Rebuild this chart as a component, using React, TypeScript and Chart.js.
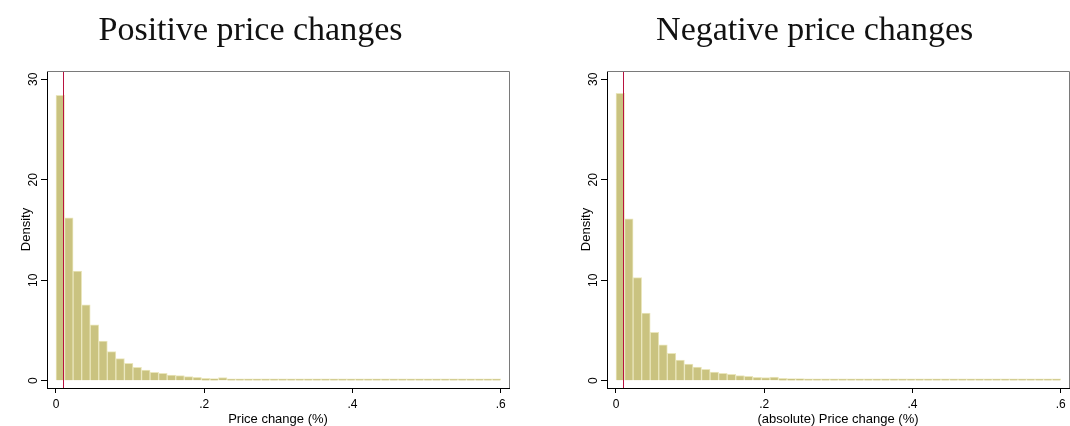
import React, { useEffect, useRef } from 'react';
import { Chart, registerables } from 'chart.js';

Chart.register(...registerables);

// ---- data ----
const binCount = 52;
const dataMax = 0.6;
const binWidth = dataMax / binCount;

const positiveDensity = [
  28.4, 16.2, 10.9, 7.54, 5.55, 3.95, 2.89, 2.19, 1.73, 1.33,
  1.06, 0.83, 0.73, 0.57, 0.5, 0.4, 0.33, 0.23, 0.2, 0.3,
  0.17, 0.17, 0.13, 0.13, 0.12, 0.17, 0.1, 0.1, 0.09, 0.08,
  0.08, 0.07, 0.07, 0.08, 0.06, 0.07, 0.06, 0.06, 0.07, 0.05,
  0.06, 0.05, 0.05, 0.06, 0.05, 0.05, 0.05, 0.04, 0.05, 0.05,
  0.04, 0.05,
];

const negativeDensity = [
  28.6, 16.1, 10.26, 6.74, 4.82, 3.56, 2.73, 2.06, 1.66, 1.36,
  1.13, 0.87, 0.73, 0.63, 0.5, 0.43, 0.33, 0.3, 0.37, 0.23,
  0.2, 0.2, 0.17, 0.17, 0.13, 0.13, 0.13, 0.1, 0.1, 0.09,
  0.09, 0.12, 0.12, 0.1, 0.08, 0.08, 0.07, 0.07, 0.07, 0.06,
  0.06, 0.06, 0.06, 0.05, 0.05, 0.05, 0.05, 0.05, 0.05, 0.05,
  0.05, 0.05,
];

const xTickValues = [0, 0.2, 0.4, 0.6];
const xTickLabels = ['0', '.2', '.4', '.6'];
const yTickValues = [0, 10, 20, 30];
const yTickLabels = ['0', '10', '20', '30'];
const referenceLineX = 0.01;

const SANS = '"Liberation Sans", Arial, Helvetica, sans-serif';
const SERIF = '"Liberation Serif", "Times New Roman", serif';

const BAR_FILL = 'rgb(202,195,128)';
const BAR_EDGE = 'rgb(234,230,188)';
const REF_RED = '#b8123f';

type HistProps = {
  title: string;
  xTitle: string;
  values: number[];
  left: number;
  titleCenter: number;
};

function Histogram({ title, xTitle, values, left, titleCenter }: HistProps) {
  const ref = useRef<HTMLCanvasElement | null>(null);

  useEffect(() => {
    const canvas = ref.current;
    if (!canvas) return;

    const points = values.map((v, i) => ({ x: (i + 0.5) * binWidth, y: v }));

    const overlay = {
      id: 'overlay' + left,
      afterDatasetsDraw(chart: any) {
        const { ctx, chartArea, scales } = chart;
        const px = Math.round(scales.x.getPixelForValue(referenceLineX)) + 0.5;
        ctx.save();
        ctx.strokeStyle = REF_RED;
        ctx.lineWidth = 1;
        ctx.beginPath();
        ctx.moveTo(px, chartArea.top);
        ctx.lineTo(px, chartArea.bottom);
        ctx.stroke();
        ctx.restore();
      },
      afterDraw(chart: any) {
        const { ctx, chartArea, scales } = chart;
        ctx.save();
        // frame top & right
        ctx.strokeStyle = '#7a7a7a';
        ctx.lineWidth = 1;
        ctx.beginPath();
        ctx.moveTo(chartArea.left, chartArea.top + 0.5);
        ctx.lineTo(chartArea.right + 0.5, chartArea.top + 0.5);
        ctx.lineTo(chartArea.right + 0.5, chartArea.bottom);
        ctx.stroke();

        // rotated y tick labels
        ctx.fillStyle = '#000';
        ctx.font = '12px ' + SANS;
        ctx.textAlign = 'center';
        ctx.textBaseline = 'alphabetic';
        yTickValues.forEach((v, i) => {
          const py = scales.y.getPixelForValue(v);
          ctx.save();
          ctx.translate(chartArea.left - 10.5, py);
          ctx.rotate(-Math.PI / 2);
          ctx.fillText(yTickLabels[i], 0, 0);
          ctx.restore();
        });

        // title
        ctx.fillStyle = '#111';
        ctx.font = '34px ' + SERIF;
        ctx.textAlign = 'center';
        ctx.textBaseline = 'alphabetic';
        ctx.fillText(title, titleCenter, 40);
        ctx.restore();
      },
    };

    const chart = new Chart(canvas, {
      type: 'bar',
      data: {
        datasets: [
          {
            data: points as any,
            backgroundColor: BAR_FILL,
            borderColor: BAR_EDGE,
            borderWidth: 1,
            barPercentage: 1,
            categoryPercentage: 1,
            minBarLength: 1.8,
          },
        ],
      },
      options: {
        responsive: false,
        animation: false,
        devicePixelRatio: 1,
        layout: { padding: { top: 71, right: 1, left: 0, bottom: 0 } },
        plugins: {
          legend: { display: false },
          tooltip: { enabled: false },
          title: { display: false },
        },
        scales: {
          x: {
            type: 'linear',
            offset: false,
            min: -0.01214,
            max: 0.6112,
            afterBuildTicks: (s: any) => {
              s.ticks = xTickValues.map((v) => ({ value: v }));
            },
            afterFit: (s: any) => {
              s.height = 38;
            },
            ticks: {
              autoSkip: false,
              maxRotation: 0,
              minRotation: 0,
              padding: 4,
              color: '#000',
              font: { family: SANS, size: 12 },
              callback: (value: any) => {
                const idx = xTickValues.indexOf(Number(value));
                return idx >= 0 ? xTickLabels[idx] : '';
              },
            },
            grid: {
              display: true,
              offset: false,
              drawOnChartArea: false,
              drawTicks: true,
              tickLength: 5,
              tickColor: '#000',
              tickWidth: 1,
            },
            border: { display: true, color: '#000', width: 1 },
            title: {
              display: true,
              text: xTitle,
              color: '#000',
              font: { family: SANS, size: 13, lineHeight: 1 },
              padding: { top: 0, bottom: 0 },
            },
          },
          y: {
            type: 'linear',
            min: -0.727,
            max: 30.826,
            afterBuildTicks: (s: any) => {
              s.ticks = yTickValues.map((v) => ({ value: v }));
            },
            afterFit: (s: any) => {
              s.width = 47;
            },
            ticks: { display: false },
            grid: {
              display: true,
              drawOnChartArea: false,
              drawTicks: true,
              tickLength: 6,
              tickColor: '#000',
              tickWidth: 1,
            },
            border: { display: true, color: '#000', width: 1 },
            title: {
              display: true,
              text: 'Density',
              color: '#000',
              font: { family: SANS, size: 13 },
              padding: { top: 18.4, bottom: 0 },
            },
          },
        },
      },
      plugins: [overlay],
    } as any);

    return () => chart.destroy();
  }, [title, xTitle, values, left, titleCenter]);

  return (
    <div style={{ position: 'absolute', left, top: 0, width: 510, height: 426 }}>
      <canvas ref={ref} width={510} height={426} style={{ width: 510, height: 426, display: 'block' }} />
    </div>
  );
}

export default function App() {
  return (
    <div style={{ position: 'absolute', left: 0, top: 0, width: 1070, height: 426, background: '#fff' }}>
      <Histogram
        title="Positive price changes"
        xTitle="Price change (%)"
        values={positiveDensity}
        left={0}
        titleCenter={250.5}
      />
      <Histogram
        title="Negative price changes"
        xTitle="(absolute) Price change (%)"
        values={negativeDensity}
        left={560}
        titleCenter={254.7}
      />
    </div>
  );
}
